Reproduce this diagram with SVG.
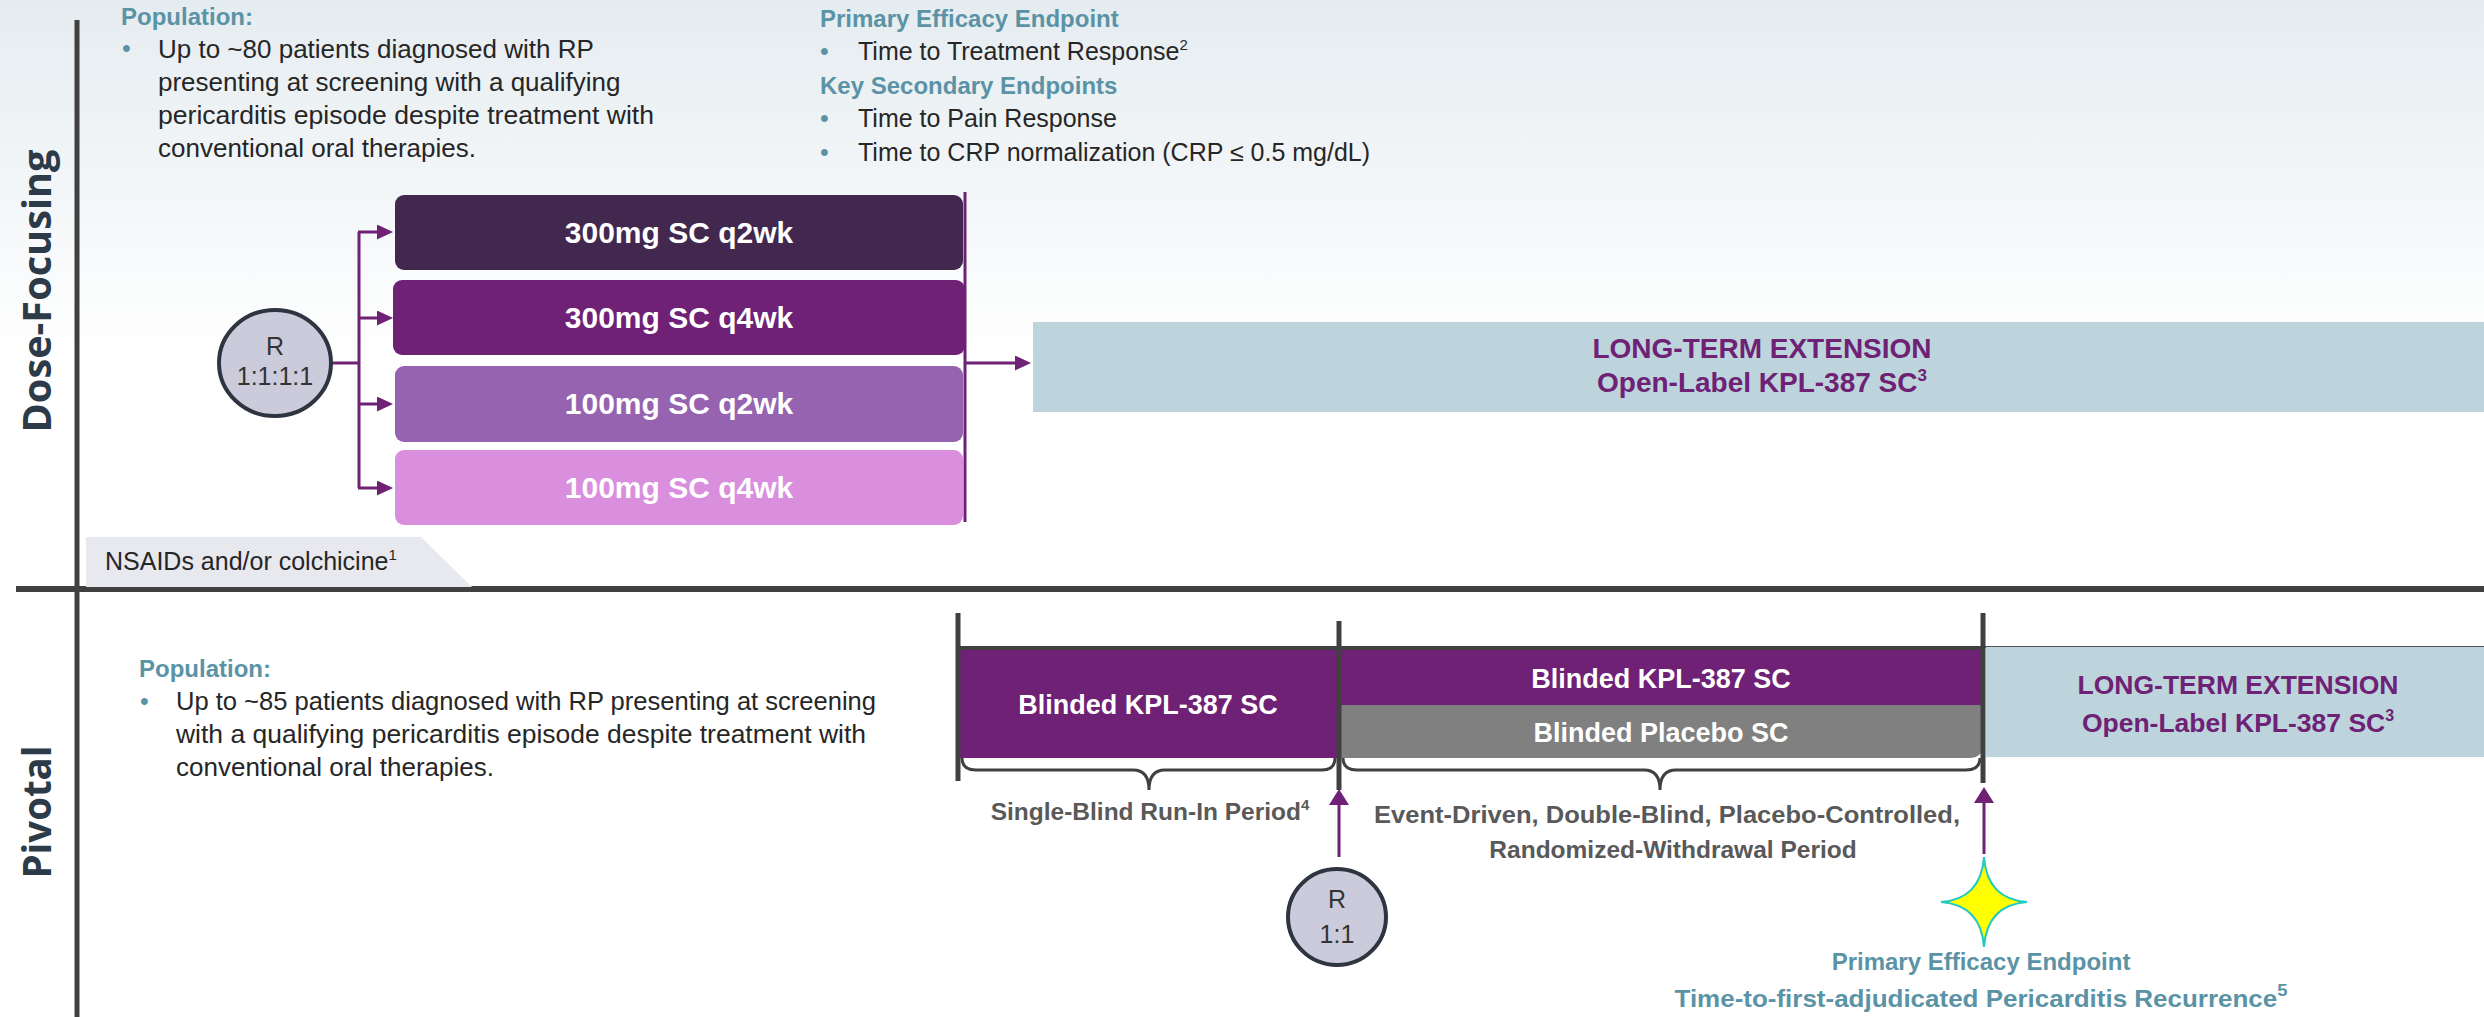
<svg xmlns="http://www.w3.org/2000/svg" width="2484" height="1017" viewBox="0 0 2484 1017">
<defs>
<linearGradient id="bg" x1="0" y1="0" x2="0" y2="1">
<stop offset="0" stop-color="#e5ecf0"/>
<stop offset="0.6" stop-color="#ffffff"/>
<stop offset="1" stop-color="#ffffff"/>
</linearGradient>
<marker id="ahr" viewBox="0 0 10 10" refX="0" refY="5" markerWidth="16" markerHeight="15" markerUnits="userSpaceOnUse" orient="auto" preserveAspectRatio="none">
<path d="M0,0 L10,5 L0,10 Z" fill="#6e2175"/>
</marker>
<marker id="ahu" viewBox="0 0 10 10" refX="0" refY="5" markerWidth="16" markerHeight="20" markerUnits="userSpaceOnUse" orient="auto" preserveAspectRatio="none">
<path d="M0,0 L10,5 L0,10 Z" fill="#6e2175"/>
</marker>
</defs>
<style>
text{font-family:"Liberation Sans",Arial,sans-serif;}
.body{font-size:25px;fill:#262626;}
.pop{font-size:26px;fill:#262626;}
.head{font-size:24px;font-weight:bold;fill:#5b93a6;}
.bul{font-size:25px;fill:#5b93a6;}
.box{font-size:30px;font-weight:bold;fill:#ffffff;text-anchor:middle;}
.pbox{font-size:27px;font-weight:bold;fill:#ffffff;text-anchor:middle;}
.lte{font-weight:bold;fill:#6e2175;text-anchor:middle;}
.gl{font-size:24.5px;font-weight:bold;fill:#595959;text-anchor:middle;}
.rt{font-size:25px;fill:#333333;text-anchor:middle;}
.side{font-family:"Open Sans","Liberation Sans",sans-serif;font-size:40px;font-weight:bold;fill:#2d3a48;text-anchor:middle;}
.conn{stroke:#6e2175;stroke-width:3;fill:none;}
.dark{stroke:#404040;fill:none;}
</style>
<rect x="0" y="0" width="2484" height="1017" fill="#ffffff"/>
<rect x="0" y="0" width="2484" height="589" fill="url(#bg)"/>

<g id="frame">
<line x1="77" y1="20" x2="77" y2="1017" class="dark" stroke-width="5"/>
<line x1="16" y1="589" x2="2484" y2="589" class="dark" stroke-width="6"/>
<text class="side" transform="translate(51,291) rotate(-90)" textLength="283" lengthAdjust="spacingAndGlyphs">Dose-Focusing</text>
<text class="side" transform="translate(51,812) rotate(-90)" textLength="133" lengthAdjust="spacingAndGlyphs">Pivotal</text>
</g>

<g id="population-top">
<text x="121" y="25" class="head">Population:</text>
<text x="122" y="57" class="bul">•</text>
<text x="158" y="58" class="pop">Up to ~80 patients diagnosed with RP</text>
<text x="158" y="91" class="pop">presenting at screening with a qualifying</text>
<text x="158" y="124" class="pop" textLength="496" lengthAdjust="spacingAndGlyphs">pericarditis episode despite treatment with</text>
<text x="158" y="157" class="pop">conventional oral therapies.</text>
</g>

<g id="endpoints-top">
<text x="820" y="27" class="head">Primary Efficacy Endpoint</text>
<text x="820" y="60" class="bul">•</text>
<text x="858" y="60" class="body">Time to Treatment Response<tspan font-size="15" dy="-10">2</tspan></text>
<text x="820" y="94" class="head">Key Secondary Endpoints</text>
<text x="820" y="127" class="bul">•</text>
<text x="858" y="127" class="body">Time to Pain Response</text>
<text x="820" y="161" class="bul">•</text>
<text x="858" y="161" class="body">Time to CRP normalization (CRP ≤ 0.5 mg/dL)</text>
</g>

<g id="connectors">
<line x1="331" y1="363" x2="359" y2="363" class="conn"/>
<line x1="359" y1="232" x2="359" y2="488" class="conn"/>
<line x1="358" y1="232" x2="377" y2="232" class="conn" marker-end="url(#ahr)"/>
<line x1="358" y1="318" x2="377" y2="318" class="conn" marker-end="url(#ahr)"/>
<line x1="358" y1="404" x2="377" y2="404" class="conn" marker-end="url(#ahr)"/>
<line x1="358" y1="488" x2="377" y2="488" class="conn" marker-end="url(#ahr)"/>
<line x1="965" y1="192" x2="965" y2="522" class="conn"/>
<line x1="965" y1="363" x2="1015" y2="363" class="conn" marker-end="url(#ahr)"/>
<line x1="1339" y1="857" x2="1339" y2="805" class="conn" stroke-width="5" marker-end="url(#ahu)"/>
<line x1="1984" y1="854" x2="1984" y2="803" class="conn" stroke-width="5" marker-end="url(#ahu)"/>
</g>

<g id="rand-top">
<ellipse cx="275" cy="363" rx="56" ry="53" fill="#cccbdb" stroke="#2e3440" stroke-width="4"/>
<text x="275" y="355" class="rt">R</text>
<text x="275" y="385" class="rt">1:1:1:1</text>
</g>

<g id="arm-300-q2wk">
<rect x="395" y="195" width="568" height="75" rx="9" fill="#42284f"/>
<text x="679" y="243" class="box">300mg SC q2wk</text>
</g>
<g id="arm-300-q4wk">
<rect x="393" y="280" width="572" height="75" rx="9" fill="#6e2175"/>
<text x="679" y="328" class="box">300mg SC q4wk</text>
</g>
<g id="arm-100-q2wk">
<rect x="395" y="366" width="568" height="76" rx="9" fill="#9563b0"/>
<text x="679" y="414" class="box">100mg SC q2wk</text>
</g>
<g id="arm-100-q4wk">
<rect x="395" y="450" width="568" height="75" rx="9" fill="#d98fdd"/>
<text x="679" y="498" class="box">100mg SC q4wk</text>
</g>

<g id="lte-top">
<rect x="1033" y="322" width="1451" height="90" fill="#bdd4dc"/>
<text x="1762" y="358" class="lte" font-size="28">LONG-TERM EXTENSION</text>
<text x="1762" y="392" class="lte" font-size="28">Open-Label KPL-387 SC<tspan font-size="17" dy="-11">3</tspan></text>
</g>

<g id="nsaids">
<polygon points="86,537 421,537 472,587 86,587" fill="#e8e8ef"/>
<text x="105" y="570" class="body" fill="#333333">NSAIDs and/or colchicine<tspan font-size="15" dy="-10">1</tspan></text>
</g>

<g id="population-pivotal">
<text x="139" y="677" class="head">Population:</text>
<text x="140" y="710" class="bul">•</text>
<text x="176" y="710" class="pop" textLength="700" lengthAdjust="spacingAndGlyphs">Up to ~85 patients diagnosed with RP presenting at screening</text>
<text x="176" y="743" class="pop" textLength="690" lengthAdjust="spacingAndGlyphs">with a qualifying pericarditis episode despite treatment with</text>
<text x="176" y="776" class="pop">conventional oral therapies.</text>
</g>

<g id="runin">
<rect x="958" y="649" width="381" height="109" fill="#6e2175"/>
<text x="1148" y="714" class="pbox">Blinded KPL-387 SC</text>
</g>

<g id="double-blind">
<rect x="1339" y="649" width="644" height="56" fill="#6e2175"/>
<text x="1661" y="688" class="pbox">Blinded KPL-387 SC</text>
<path d="M1339,705 H1983 V744 Q1983,758 1969,758 H1339 Z" fill="#808080"/>
<text x="1661" y="742" class="pbox">Blinded Placebo SC</text>
</g>

<g id="timeline">
<line x1="958" y1="648" x2="1983" y2="648" class="dark" stroke-width="4"/>
<line x1="1983" y1="647" x2="2484" y2="647" stroke="#555555" stroke-width="2"/>
<line x1="958" y1="613" x2="958" y2="781" class="dark" stroke-width="5"/>
<line x1="1339" y1="621" x2="1339" y2="790" class="dark" stroke-width="5"/>
<line x1="1983" y1="613" x2="1983" y2="783" class="dark" stroke-width="5"/>
<path d="M962,758 Q962,770 976,770 L1133,770 Q1149,770 1149,790 Q1149,770 1165,770 L1322,770 Q1335,770 1335,758" class="dark" stroke-width="3"/>
<path d="M1343,758 Q1343,770 1357,770 L1644,770 Q1660,770 1660,790 Q1660,770 1676,770 L1966,770 Q1980,770 1980,758" class="dark" stroke-width="3"/>
<text x="1150" y="820" class="gl">Single-Blind Run-In Period<tspan font-size="15" dy="-10">4</tspan></text>
<text x="1667" y="823" class="gl" textLength="586" lengthAdjust="spacingAndGlyphs">Event-Driven, Double-Blind, Placebo-Controlled,</text>
<text x="1673" y="858" class="gl">Randomized-Withdrawal Period</text>
</g>

<g id="lte-pivotal">
<rect x="1986" y="647" width="498" height="110" fill="#bdd4dc"/>
<text x="2238" y="694" class="lte" font-size="26.5">LONG-TERM EXTENSION</text>
<text x="2238" y="732" class="lte" font-size="26.5">Open-Label KPL-387 SC<tspan font-size="16" dy="-11">3</tspan></text>
</g>

<g id="rand-pivotal">
<ellipse cx="1337" cy="917" rx="49" ry="48" fill="#cccbdb" stroke="#2e3440" stroke-width="4"/>
<text x="1337" y="908" class="rt">R</text>
<text x="1337" y="943" class="rt">1:1</text>
</g>

<g id="endpoint-star">
<path d="M1984,857 Q1987,899 2027,902 Q1987,905 1984,947 Q1981,905 1941,902 Q1981,899 1984,857 Z" fill="#ffff00" stroke="#22c9c0" stroke-width="2"/>
<text x="1981" y="970" class="head" font-size="27.5" text-anchor="middle">Primary Efficacy Endpoint</text>
<text x="1981" y="1007" class="head" font-size="27.5" text-anchor="middle" textLength="613" lengthAdjust="spacingAndGlyphs">Time-to-first-adjudicated Pericarditis Recurrence<tspan font-size="17" dy="-11">5</tspan></text>
</g>
</svg>
